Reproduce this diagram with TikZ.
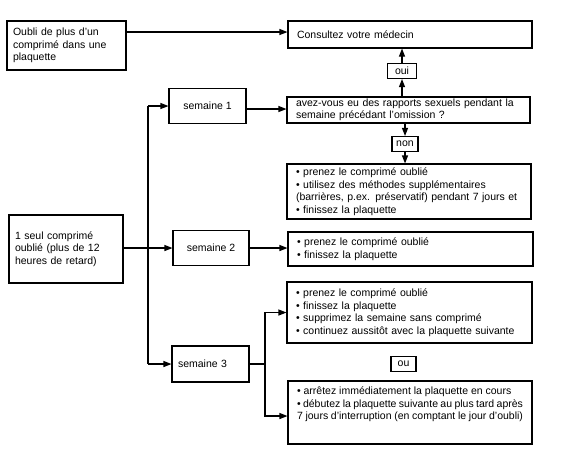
\documentclass[tikz,border=0pt]{standalone}
\usepackage{fontspec}
\setmainfont{Liberation Sans}
\usetikzlibrary{arrows.meta}
\begin{document}
\begin{tikzpicture}[x=1pt, y=-1pt,
    every node/.style={font=\fontsize{10.5}{12.5}\selectfont},
    box/.style={draw, line width=1.1pt, inner sep=0pt, align=left},
    tag/.style={draw, line width=1.1pt, inner sep=0pt, minimum height=15pt},
    arr/.style={-{Triangle[length=8pt,width=6pt]}}]
    \useasboundingbox (0,0) rectangle (583,459);
    \begin{scope}[line width=1.1pt]
    % left column
    \node[box, minimum width=119pt, minimum height=49pt, text width=107pt] (oubli) at (66.5,45.5) {Oubli de plus d'un\\comprimé dans une\\plaquette};
    \node[box, minimum width=114pt, minimum height=68pt, text width=102pt] (seul) at (66,249) {1 seul comprimé\\oublié (plus de 12\\heures de retard)};
    % semaines
    \node[box, minimum width=77pt, minimum height=35pt, align=center] (s1) at (207.5,106) {semaine 1};
    \node[box, minimum width=76pt, minimum height=35pt, align=center] (s2) at (211,248) {semaine 2};
    \node[box, minimum width=77pt, minimum height=36pt, text width=65pt] (s3) at (210.5,364) {semaine 3};
    % right column
    \node[box, minimum width=244pt, minimum height=27pt, text width=226pt] (consult) at (410,34.5) {Consultez votre médecin};
    \node[tag, minimum width=29pt] (oui) at (402,71) {oui};
    \node[box, minimum width=243pt, minimum height=26pt, text width=225pt] (question) at (408.5,110) {avez-vous eu des rapports sexuels pendant la\\semaine précédant l'omission ?};
    \node[tag, minimum width=26pt] (non) at (405,144) {non};
    \node[box, minimum width=244pt, minimum height=55pt, text width=226pt] (b1) at (409,191.5) {\textbullet\ prenez le comprimé oublié\\\textbullet\ utilisez des méthodes supplémentaires\\(barrières, p.ex. préservatif) pendant 7 jours et\\\textbullet\ finissez la plaquette};
    \node[box, minimum width=245pt, minimum height=34pt, text width=227pt] (b2) at (410.5,249) {\textbullet\ prenez le comprimé oublié\\\textbullet\ finissez la plaquette};
    \node[box, minimum width=245pt, minimum height=61pt, text width=227pt] (b3) at (409.5,312.5) {\textbullet\ prenez le comprimé oublié\\\textbullet\ finissez la plaquette\\\textbullet\ supprimez la semaine sans comprimé\\\textbullet\ continuez aussitôt avec la plaquette suivante};
    \node[tag, minimum width=25pt] (ou) at (403.5,364) {ou};
    \node[box, minimum width=244pt, minimum height=63pt] (b4) at (410,412.5) {\parbox[c][51pt][t]{226pt}{\textbullet\ arrêtez immédiatement la plaquette en cours\\\textbullet\ débutez la plaquette suivante au plus tard après\\7 jours d'interruption (en comptant le jour d'oubli)}};
    \coordinate (trunk) at (148,248);
    \coordinate (fork) at (265,364);
    % connectors
    \draw[arr] (oubli.east |- 0,32) -- (consult.west |- 0,32);
    \draw[arr] (s2.west -| seul.east) -- (s2.west);
    \draw[arr] (trunk |- s1.west) -- (s1.west);
    \draw (trunk |- s1.west) -- (trunk |- s3.west);
    \draw[arr] (trunk |- s3.west) -- (s3.west);
    \draw[arr] (s1.east |- 0,109) -- (question.west |- 0,109);
    \draw[arr] (s2.east) -- (b2.west |- s2.east);
    \draw (s3.east) -- (fork);
    \draw[arr] (fork) |- (b3.west);
    \draw[arr] (fork) |- (b4.west |- 0,416);
    \draw[arr] (oui.south |- question.north) -- (oui.south);
    \draw[arr] (oui.north) -- (oui.north |- consult.south);
    \draw[arr] (question.south -| non) -- (non.north);
    \draw[arr] (non.south) -- (non.south |- b1.north);
    \end{scope}
\end{tikzpicture}
\end{document}
